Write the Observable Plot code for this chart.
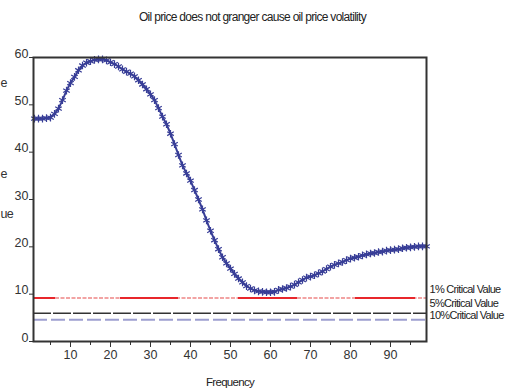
<!DOCTYPE html>
<html>
<head>
<meta charset="utf-8">
<script src="https://cdn.jsdelivr.net/npm/d3@7"></script>
<script src="https://cdn.jsdelivr.net/npm/@observablehq/plot@0.6"></script>
<style>
html, body { margin: 0; padding: 0; background: #fff; overflow: hidden; }
#chart svg { display: block; }
</style>
</head>
<body>
<div id="chart"></div>
<script>
// ---- data ----
const titleText = "Oil price does not granger cause oil price volatility";
const xLabelText = "Frequency";
const yLabelFragments = ["e", "e", "ue"];
const frequency = [1,2,3,4,5,6,7,8,9,10,11,12,13,14,15,16,17,18,19,20,21,22,23,24,25,26,27,28,29,30,31,32,33,34,35,36,37,38,39,40,41,42,43,44,45,46,47,48,49,50,51,52,53,54,55,56,57,58,59,60,61,62,63,64,65,66,67,68,69,70,71,72,73,74,75,76,77,78,79,80,81,82,83,84,85,86,87,88,89,90,91,92,93,94,95,96,97,98,99];
const statValues = [
  47.1,47.1,47.1,47.2,47.3,48.1,49.2,51.0,53.0,54.6,
  55.9,57.3,58.3,58.9,59.2,59.5,59.6,59.6,59.4,59.0,
  58.6,58.1,57.5,57.0,56.6,56.0,55.2,54.3,53.3,52.2,
  51.0,49.3,47.5,45.9,43.9,41.7,39.4,37.2,35.5,34.0,
  32.0,30.0,27.9,25.6,23.4,21.4,19.5,17.8,16.5,15.4,
  14.3,13.3,12.5,11.7,11.2,10.8,10.6,10.5,10.4,10.4,
  10.5,10.9,11.1,11.3,11.6,12.0,12.5,13.0,13.5,13.7,
  14.0,14.4,14.8,15.3,15.8,16.2,16.5,16.8,17.2,17.5,
  17.7,17.9,18.2,18.4,18.6,18.7,18.9,19.0,19.2,19.3,
  19.4,19.5,19.7,19.8,19.9,20.0,20.1,20.1,20.1
];
const criticalLabels = ["1% Critical Value", "5%Critical Value", "10%Critical Value"];
const criticalValues = [9.21, 5.99, 4.61];
const yTicks = [0, 10, 20, 30, 40, 50, 60];
const xTicks = [10, 20, 30, 40, 50, 60, 70, 80, 90];
const xMinorTicks = [5, 15, 25, 35, 45, 55, 65, 75, 85, 95];

// ---- table ----
const table = frequency.map((f, i) => ({f, v: statValues[i]}));

const FONT = "Liberation Sans, Arial, Helvetica, sans-serif";
const curveColor = "#383e97";
const labelOffsets = [-8, -9.5, -4.5];
const fragOffsets = [25, 116, 156];

const marks = [
  // critical value lines
  Plot.ruleY([criticalValues[0]], {stroke: "#f2a3a3", strokeWidth: 2, strokeDasharray: "4,1.5"}),
  Plot.ruleY([criticalValues[0]], {stroke: "#e8262b", strokeWidth: 2, strokeDasharray: "22,65,58,60,59,58,60,100"}),
  Plot.ruleY([criticalValues[1]], {stroke: "#333", strokeWidth: 1.5, strokeDasharray: "18,2"}),
  Plot.ruleY([criticalValues[2]], {stroke: "#9d9fd0", strokeWidth: 2, strokeDasharray: "14,4"}),
  // statistic curve
  Plot.line(table, {x: "f", y: "v", stroke: curveColor, strokeWidth: 2}),
  Plot.dot(table, {x: "f", y: "v", symbol: "asterisk", r: 3.6, stroke: curveColor, strokeWidth: 1.2}),
  Plot.frame({stroke: "#333", strokeWidth: 2}),
  // axes: y ticks and y labels (labels sit slightly above their ticks)
  Plot.axisY(yTicks, {tickSize: 4, tickFormat: () => "", stroke: "#333", label: null}),
  Plot.axisY(yTicks, {tickSize: 0, tickPadding: 5, fontSize: 12.5, dy: -4, fill: "#333", label: null}),
  Plot.axisX(xTicks, {tickSize: 6, tickPadding: 3, fontSize: 12.5, stroke: "#333", fill: "#333", label: null}),
  Plot.axisX(xMinorTicks, {tickSize: 4, tickFormat: () => "", stroke: "#333", label: null}),
  // title and x label
  Plot.text([titleText], {frameAnchor: "top-left", dx: 219, dy: -40, textAnchor: "middle", lineAnchor: "middle", fontSize: 12, fill: "#222", text: d => d}),
  Plot.text([xLabelText], {frameAnchor: "bottom", dy: 40.5, textAnchor: "middle", lineAnchor: "middle", fontSize: 11.5, fill: "#222", text: d => d})
];

criticalLabels.forEach((lab, i) => {
  marks.push(Plot.text([lab], {x: () => 99, y: () => criticalValues[i], dx: 3, dy: labelOffsets[i], textAnchor: "start", lineAnchor: "middle", fontSize: 11, fill: "#222", text: d => d}));
});
yLabelFragments.forEach((frag, i) => {
  marks.push(Plot.text([frag], {frameAnchor: "top-left", dx: -33, dy: fragOffsets[i], textAnchor: "start", lineAnchor: "middle", fontSize: 12.5, fill: "#333", text: d => d}));
});

const chart = Plot.plot({
  width: 515,
  height: 391,
  marginLeft: 33,
  marginRight: 89,
  marginTop: 57,
  marginBottom: 50,
  style: {fontFamily: FONT, fontSize: "12px", background: "#fff", overflow: "visible"},
  x: {domain: [0.75, 99]},
  y: {domain: [0, 60]},
  marks
});

document.getElementById("chart").appendChild(chart);

// condensed lettering for titles/labels like the reference
d3.select(chart).selectAll("g[aria-label='text'] text").style("letter-spacing", "-0.7px");
</script>
</body>
</html>
